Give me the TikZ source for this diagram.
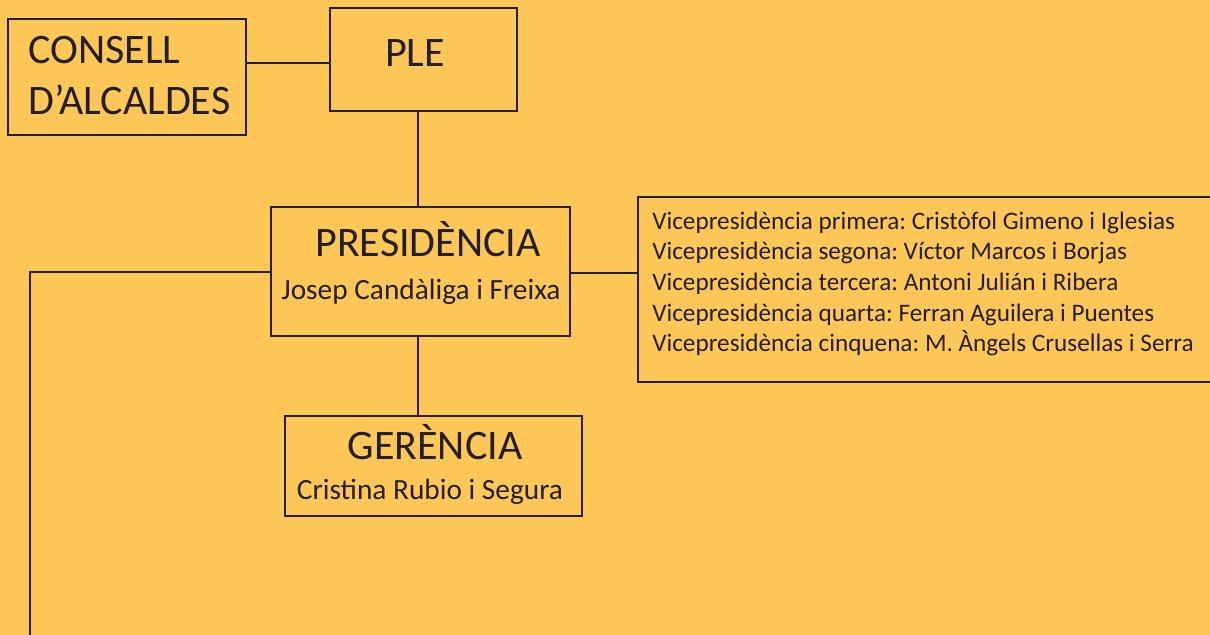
\documentclass[tikz,border=0pt]{standalone}
\usepackage{fontspec}
\setmainfont{Carlito}
\frenchspacing
\definecolor{bg}{RGB}{255,198,88}
\definecolor{ink}{RGB}{35,31,32}
\begin{document}
\begin{tikzpicture}[x=0.75pt,y=-0.75pt,
  box/.style={draw=ink,line width=1.7pt,anchor=north west,inner sep=0pt,outer sep=0pt},
  conn/.style={draw=ink,line width=1.7pt},
  ttltxt/.style={text=ink,font=\fontsize{31.5pt}{37pt}\selectfont,inner sep=0pt},
  persontxt/.style={text=ink,font=\fontsize{22pt}{26pt}\selectfont,inner sep=0pt},
  vptxt/.style={text=ink,font=\fontsize{18.9pt}{22pt}\selectfont,inner sep=0pt,anchor=base west}]
\fill[bg] (0,0) rectangle (1210,635);
\useasboundingbox (0,0) rectangle (1210,635);
\clip (0,0) rectangle (1210,635);
% boxes
\node[box,minimum width=178.5pt,minimum height=87pt] (cons) at (8,19) {};
\node[box,minimum width=140.25pt,minimum height=77.25pt] (ple) at (330,8) {};
\node[box,minimum width=224.25pt,minimum height=96.75pt] (pres) at (271,207) {};
\node[box,minimum width=450pt,minimum height=138.75pt] (vice) at (638,197) {};
\node[box,minimum width=222.75pt,minimum height=75pt] (ger) at (285,416) {};
% texts
\node[ttltxt,anchor=base west] (t1) at (28,64) {CONSELL};
\node[ttltxt,anchor=base west] (t2) at (28,114) {D’ALCALDES};
\node[ttltxt,anchor=base] (t3) at (415,67) {PLE};
\node[ttltxt,anchor=base] (t4) at (428,256) {PRESIDÈNCIA};
\node[persontxt,anchor=base] (t5) at (421,299) {Josep Candàliga i Freixa};
\node[ttltxt,anchor=base] (t6) at (435,459) {GERÈNCIA};
\node[persontxt,anchor=base] (t7) at (430,499) {Cristina Rubio i Segura};
\node[vptxt] (v1) at (652,229) {Vicepresidència primera: Cristòfol Gimeno i Iglesias};
\node[vptxt] (v2) at (652,259.7) {Vicepresidència segona: Víctor Marcos i Borjas};
\node[vptxt] (v3) at (652,290.4) {Vicepresidència tercera: Antoni Julián i Ribera};
\node[vptxt] (v4) at (652,321.1) {Vicepresidència quarta: Ferran Aguilera i Puentes};
\node[vptxt] (v5) at (652,351.8) {Vicepresidència cinquena: M. Àngels Crusellas i Serra};
% connectors
\coordinate (corner) at (30,272);
\coordinate (bottom) at (30,640);
\draw[conn] (cons.east |- 0,63) -- (ple.west |- 0,63);
\draw[conn] (ple.south -| 418,0) -- (pres.north -| 418,0);
\draw[conn] (pres.south -| 418,0) -- (ger.north -| 418,0);
\draw[conn] (pres.east |- 0,273) -- (vice.west |- 0,273);
\draw[conn] (pres.west |- corner) -- (corner) -- (bottom);
\end{tikzpicture}
\end{document}
